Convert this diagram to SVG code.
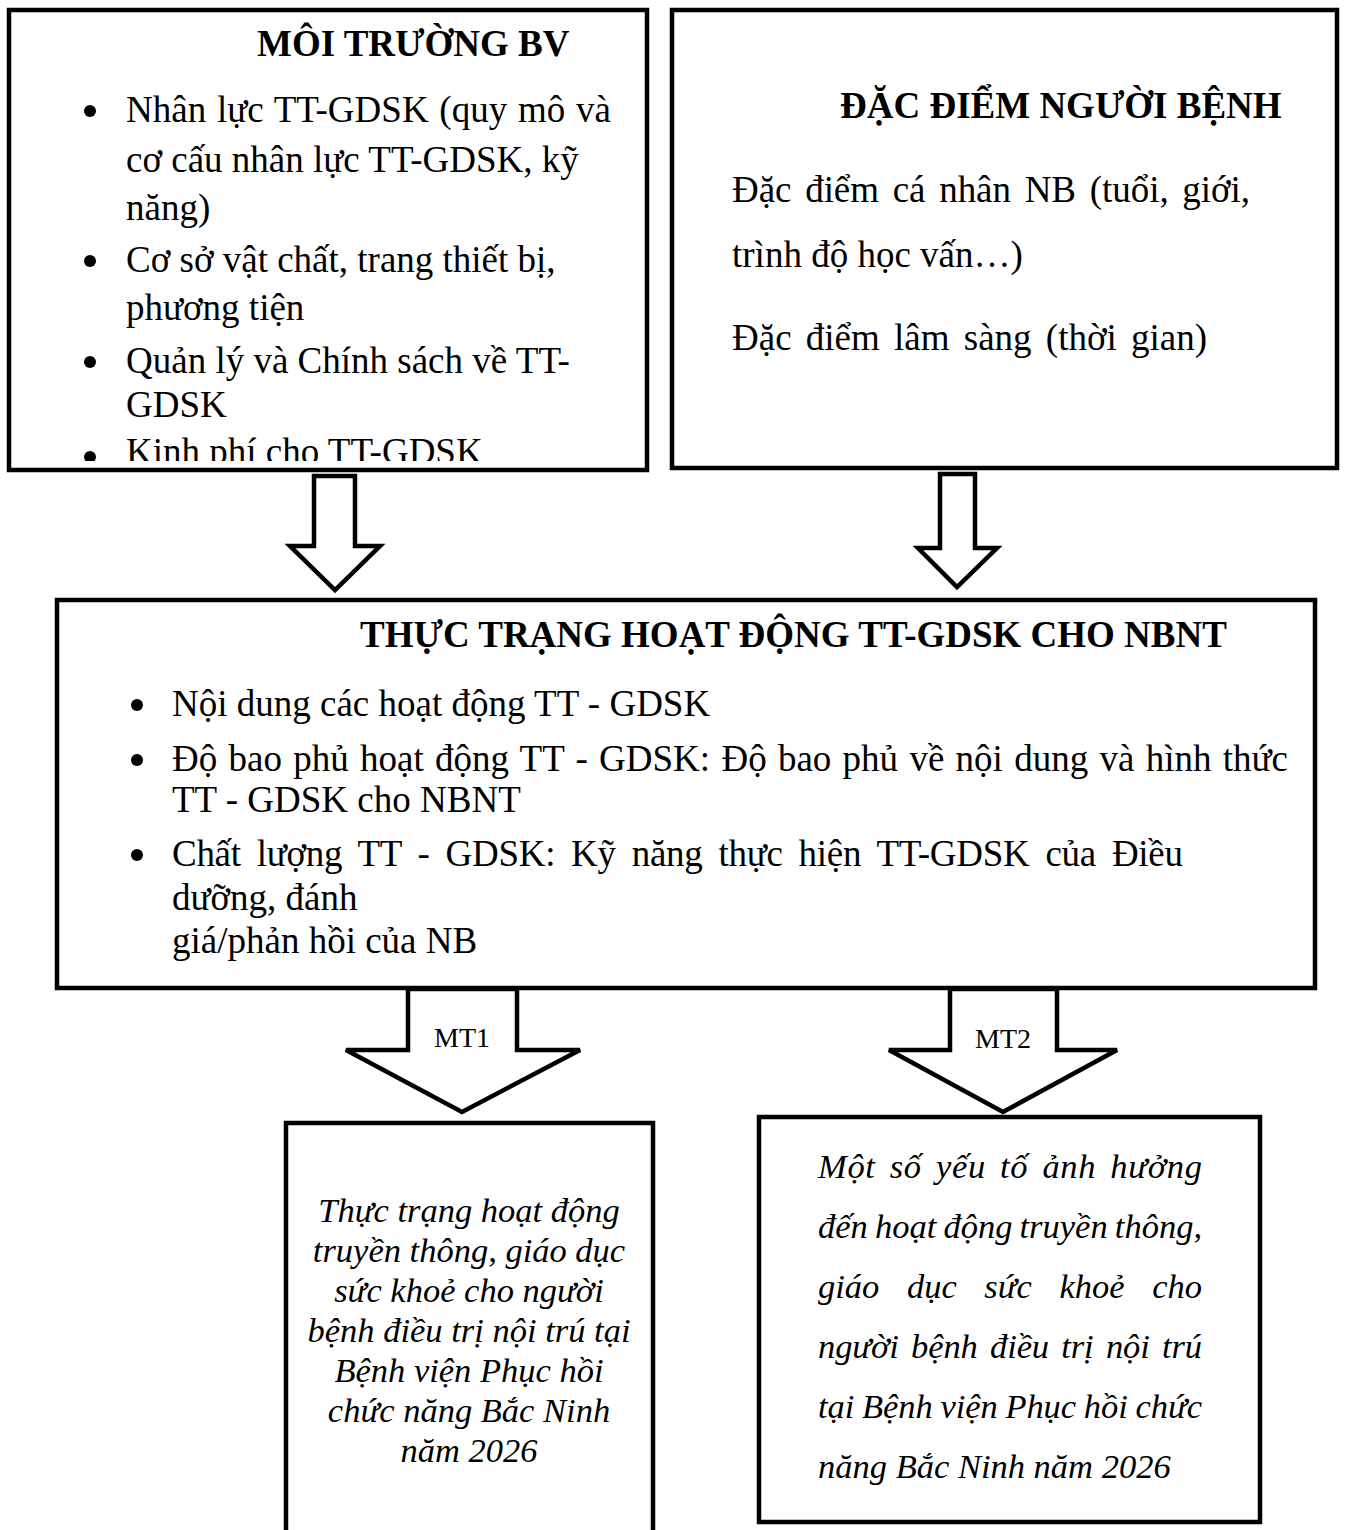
<svg xmlns="http://www.w3.org/2000/svg" width="1347" height="1530" viewBox="0 0 1347 1530">
<style>
.box{fill:#fff;stroke:#000;stroke-width:4.5}
.arr{fill:#fff;stroke:#000;stroke-width:4.5;stroke-linejoin:miter}
text{font-family:"Liberation Serif","Times New Roman",serif;fill:#000}
.t{font-size:37px}
.h{font-size:37px;font-weight:bold}
.i{font-size:34.5px;font-style:italic}
.lbl{font-size:28px;text-anchor:middle}
.c{text-anchor:middle}
.dot{fill:#000}
</style>
<defs>
<clipPath id="clipL"><rect x="0" y="0" width="660" height="461"/></clipPath>
</defs>
<rect width="1347" height="1530" fill="#fff"/>

<g id="moi-truong">
<rect class="box" x="9" y="10" width="638" height="460"/>
<text class="h" x="257" y="56">MÔI TRƯỜNG BV</text>
<circle class="dot" cx="90" cy="111" r="6"/>
<text class="t" x="126" y="122" word-spacing="1.5">Nhân lực TT-GDSK (quy mô và</text>
<text class="t" x="126" y="172">cơ cấu nhân lực TT-GDSK, kỹ</text>
<text class="t" x="126" y="220">năng)</text>
<circle class="dot" cx="90" cy="261" r="6"/>
<text class="t" x="126" y="272">Cơ sở vật chất, trang thiết bị,</text>
<text class="t" x="126" y="320">phương tiện</text>
<circle class="dot" cx="90" cy="362" r="6"/>
<text class="t" x="126" y="373">Quản lý và Chính sách về TT-</text>
<text class="t" x="126" y="417">GDSK</text>
<g clip-path="url(#clipL)">
<circle class="dot" cx="90" cy="457" r="6"/>
<text class="t" x="126" y="464">Kinh phí cho TT-GDSK</text>
</g>
</g>

<g id="dac-diem">
<rect class="box" x="672" y="10" width="665" height="458"/>
<text class="h" x="840" y="118">ĐẶC ĐIỂM NGƯỜI BỆNH</text>
<text class="t" x="732" y="202" word-spacing="4.5" textLength="518" lengthAdjust="spacing">Đặc điểm cá nhân NB (tuổi, giới,</text>
<text class="t" x="732" y="267">trình độ học vấn…)</text>
<text class="t" x="732" y="350" word-spacing="5" textLength="475" lengthAdjust="spacing">Đặc điểm lâm sàng (thời gian)</text>
</g>

<g id="thuc-trang">
<rect class="box" x="57" y="600" width="1258" height="388"/>
<text class="h" x="360" y="647">THỰC TRẠNG HOẠT ĐỘNG TT-GDSK CHO NBNT</text>
<circle class="dot" cx="137" cy="705" r="6"/>
<text class="t" x="172" y="716">Nội dung các hoạt động TT - GDSK</text>
<circle class="dot" cx="137" cy="760" r="6"/>
<text class="t" x="172" y="771" word-spacing="2" textLength="1116" lengthAdjust="spacing">Độ bao phủ hoạt động TT - GDSK: Độ bao phủ về nội dung và hình thức</text>
<text class="t" x="172" y="812">TT - GDSK cho NBNT</text>
<circle class="dot" cx="137" cy="855" r="6"/>
<text class="t" x="172" y="866" word-spacing="7" textLength="1011" lengthAdjust="spacing">Chất lượng TT - GDSK: Kỹ năng thực hiện TT-GDSK của Điều</text>
<text class="t" x="172" y="910">dưỡng, đánh</text>
<text class="t" x="172" y="953">giá/phản hồi của NB</text>
</g>

<g id="muc-tieu-1">
<rect class="box" x="286" y="1123" width="367" height="430"/>
<text class="i c" x="469" y="1222">Thực trạng hoạt động</text>
<text class="i c" x="469" y="1262">truyền thông, giáo dục</text>
<text class="i c" x="469" y="1302">sức khoẻ cho người</text>
<text class="i c" x="469" y="1342">bệnh điều trị nội trú tại</text>
<text class="i c" x="469" y="1382">Bệnh viện Phục hồi</text>
<text class="i c" x="469" y="1422">chức năng Bắc Ninh</text>
<text class="i c" x="469" y="1462">năm 2026</text>
</g>

<g id="muc-tieu-2">
<rect class="box" x="759" y="1117" width="501" height="405"/>
<text class="i" x="818" y="1178" word-spacing="4.9" textLength="384" lengthAdjust="spacing">Một số yếu tố ảnh hưởng</text>
<text class="i" x="818" y="1238" word-spacing="-1.5" textLength="384" lengthAdjust="spacing">đến hoạt động truyền thông,</text>
<text class="i" x="818" y="1298" word-spacing="19" textLength="384" lengthAdjust="spacing">giáo dục sức khoẻ cho</text>
<text class="i" x="818" y="1358" word-spacing="3.8" textLength="384" lengthAdjust="spacing">người bệnh điều trị nội trú</text>
<text class="i" x="818" y="1418" word-spacing="-0.8" textLength="384" lengthAdjust="spacing">tại Bệnh viện Phục hồi chức</text>
<text class="i" x="818" y="1478">năng Bắc Ninh năm 2026</text>
</g>

<g id="connectors">
<polygon class="arr" points="314,476 355,476 355,546 380,546 335,590 290,546 314,546"/>
<polygon class="arr" points="940,474 975,474 975,548 997,548 957,587 918,548 940,548"/>
<polygon class="arr" points="408,989 517,989 517,1050 580,1050 462,1112 346,1050 408,1050"/>
<text class="lbl" x="462" y="1047">MT1</text>
<polygon class="arr" points="950,989 1057,989 1057,1050 1117,1050 1003,1112 889,1050 950,1050"/>
<text class="lbl" x="1003" y="1048">MT2</text>
</g>
</svg>
